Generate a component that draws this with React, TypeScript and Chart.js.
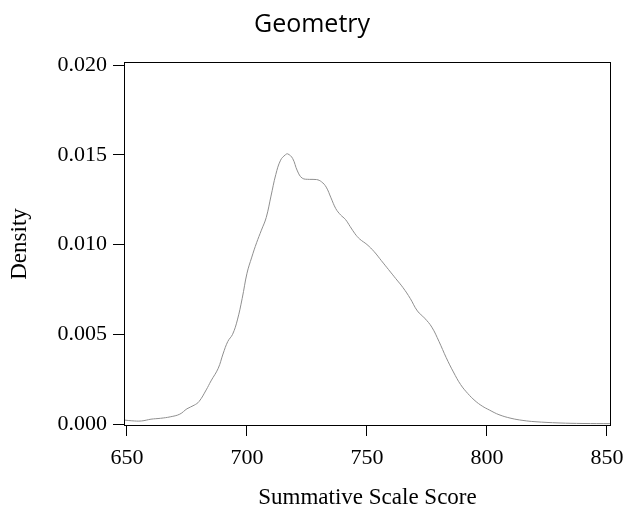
import React, { useEffect, useRef } from "react";
import { Chart, registerables } from "chart.js";

Chart.register(...registerables);

const chartTitle = "Geometry";
const xAxisTitle = "Summative Scale Score";
const yAxisTitle = "Density";

const scoreValues = [
  649, 652, 656, 660, 664, 668, 672, 675, 678, 680, 683, 685, 688, 690, 692, 694, 696, 698,
  700, 702, 704, 706, 708, 710, 712, 714, 716, 717, 719, 721, 723, 726, 729, 731, 733, 735,
  737, 739, 741, 743, 745, 747, 750, 753, 756, 759, 762, 765, 768, 771, 774, 777, 780, 783,
  786, 789, 792, 795, 798, 801, 805, 810, 815, 820, 830, 840, 851.5,
];

const densityValues = [
  0.00022, 0.00018, 0.00017, 0.00027, 0.00032, 0.0004, 0.00055, 0.00085, 0.00105, 0.00125,
  0.0019, 0.0024, 0.0031, 0.0039, 0.0046, 0.005, 0.0058, 0.007,
  0.0084, 0.0093, 0.0101, 0.0108, 0.0115, 0.0127, 0.0139, 0.0147, 0.015, 0.01505, 0.0148,
  0.0141, 0.0137, 0.01363, 0.01362, 0.0135, 0.0132, 0.0126,
  0.012, 0.01165, 0.0114, 0.011, 0.0106, 0.0103, 0.01, 0.0096, 0.0091, 0.0086, 0.0081, 0.0076,
  0.007, 0.0063, 0.0059, 0.0054, 0.0046, 0.0037,
  0.0029, 0.0022, 0.0017, 0.0013, 0.001, 0.00078, 0.00052, 0.00032, 0.0002, 0.00013, 0.00006,
  0.00003, 0.00002,
];

const xTickValues = [650, 700, 750, 800, 850];
const yTickValues = [0, 0.005, 0.01, 0.015, 0.02];

const serif = "'Liberation Serif', 'Times New Roman', serif";

const boxPlugin = {
  id: "boxPlugin",
  afterDraw(chart: any) {
    const { ctx, chartArea } = chart;
    const l = Math.round(chartArea.left) + 0.5;
    const t = Math.round(chartArea.top) + 0.5;
    const r = Math.round(chartArea.right) - 0.5;
    const b = Math.round(chartArea.bottom) - 0.5;
    ctx.save();
    ctx.strokeStyle = "#000";
    ctx.lineWidth = 1;
    ctx.strokeRect(l, t, r - l, b - t);
    ctx.restore();
  },
};

export default function App() {
  const canvasRef = useRef<HTMLCanvasElement | null>(null);

  useEffect(() => {
    if (!canvasRef.current) return;
    const points = scoreValues.map((x, i) => ({ x, y: densityValues[i] }));
    const chart = new Chart(canvasRef.current, {
      type: "line",
      data: {
        datasets: [
          {
            data: points,
            borderColor: "#8f8f8f",
            borderWidth: 1,
            pointRadius: 0,
            tension: 0.4,
            fill: false,
          },
        ],
      },
      options: {
        animation: false,
        responsive: false,
        maintainAspectRatio: false,
        layout: { padding: 0 },
        plugins: {
          legend: { display: false },
          tooltip: { enabled: false },
          title: {
            display: true,
            text: chartTitle,
            color: "#000",
            font: { family: "'Open Sans', sans-serif", size: 25, weight: "normal", lineHeight: 1.2 },
            padding: { top: 10, bottom: 22 },
          },
        },
        scales: {
          x: {
            type: "linear",
            min: 648.75,
            max: 851.67,
            afterFit: (s: any) => {
              s.height = 87;
              s.paddingLeft = 0;
              s.paddingRight = 13;
            },
            afterBuildTicks: (s: any) => {
              s.ticks = xTickValues.map((v) => ({ value: v }));
            },
            grid: {
              display: true,
              drawOnChartArea: false,
              drawTicks: true,
              tickLength: 10,
              color: "#000",
              lineWidth: 1,
            },
            border: { display: false },
            ticks: {
              color: "#000",
              font: { family: serif, size: 22 },
              padding: 9,
              maxRotation: 0,
              autoSkip: false,
              callback: (v: any) => String(v),
            },
            title: {
              display: true,
              text: xAxisTitle,
              color: "#000",
              font: { family: serif, size: 23, lineHeight: 1.2 },
              padding: { top: 0, bottom: 1 },
            },
          },
          y: {
            type: "linear",
            min: -0.00011,
            max: 0.02017,
            afterFit: (s: any) => {
              s.width = 124;
              s.paddingTop = 0;
              s.paddingBottom = 0;
            },
            afterBuildTicks: (s: any) => {
              s.ticks = yTickValues.map((v) => ({ value: v }));
            },
            grid: {
              display: true,
              drawOnChartArea: false,
              drawTicks: true,
              tickLength: 11,
              color: "#000",
              lineWidth: 1,
            },
            border: { display: false },
            ticks: {
              color: "#000",
              font: { family: serif, size: 22 },
              padding: 6,
              autoSkip: false,
              callback: (v: any) => Number(v).toFixed(3),
            },
            title: {
              display: true,
              text: yAxisTitle,
              color: "#000",
              font: { family: serif, size: 23, lineHeight: 1.2 },
              padding: { top: 6, bottom: 0 },
            },
          },
        },
      },
      plugins: [boxPlugin],
    });
    return () => chart.destroy();
  }, []);

  return (
    <div style={{ position: "absolute", left: 0, top: 0, width: 624, height: 513, background: "#fff" }}>
      <canvas ref={canvasRef} width={624} height={513} style={{ width: 624, height: 513 }} />
    </div>
  );
}
